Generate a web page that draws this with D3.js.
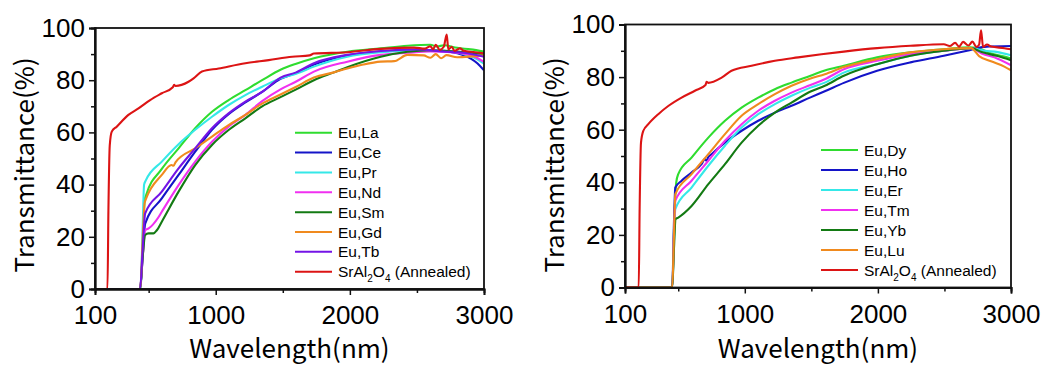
<!DOCTYPE html>
<html>
<head>
<meta charset="utf-8">
<script src="https://cdn.jsdelivr.net/npm/d3@7"></script>
<style>
  body { margin: 0; background: #fff; }
  svg { display: block; }
</style>
</head>
<body>
<svg id="chart" width="1051" height="367"></svg>
<script>
// axis ticks
const xTicks = [100, 1000, 2000, 3000];
const xMinor = [500, 1500, 2500];
const yTicks = [0, 20, 40, 60, 80, 100];
const yMinor = [10, 30, 50, 70, 90];

// left panel: [wavelength nm, transmittance %]
const euLa = [[100,0],[440,0],[458,20],[470,34],[480,35.8],[598,46],[723,53.9],[847,61.6],[972,67.9],[1096,72.4],[1221,76.2],[1346,80],[1483,84],[1600,86.3],[1732,88.4],[1981,90.9],[2230,92.2],[2430,93.2],[2600,93.6],[2650,92.9],[2700,93.4],[2800,92.4],[2900,91.8],[3000,91]];
const euCe = [[100,0],[436,0],[455,12],[474,25],[598,34.7],[723,43.7],[847,52.6],[972,61],[1096,67],[1221,71.5],[1346,75.5],[1483,80.5],[1600,82.8],[1732,86],[1981,89.5],[2230,91],[2500,91.5],[2750,90.8],[2850,89.5],[2950,86.5],[3000,83.8]];
const euPr = [[100,0],[440,0],[456,25],[466,40],[478,41.5],[598,48.8],[723,55.5],[847,61],[972,66],[1096,70.5],[1221,74.3],[1346,77.5],[1483,80.7],[1600,82.5],[1732,85.2],[1981,89],[2230,90.7],[2500,91.5],[2700,91.3],[2850,90],[2950,88],[3000,86.3]];
const euNd = [[100,0],[436,0],[455,12],[474,22.5],[500,23.2],[573,27.5],[598,29.6],[723,39.8],[847,48.8],[972,56.4],[1096,62.2],[1221,66.7],[1346,72],[1483,76.5],[1600,79.5],[1732,83.3],[1981,87.1],[2230,89.7],[2430,90.5],[2600,91],[2800,90.5],[2950,88.5],[3000,87]];
const euSm = [[100,0],[436,0],[455,12],[474,20.7],[499,21.3],[536,21.3],[561,22.5],[598,25.8],[723,37.3],[847,47.5],[972,55.2],[1096,60.9],[1221,65.4],[1346,70],[1483,73.5],[1600,76.5],[1732,80],[1881,83],[1981,85],[2230,89],[2430,90.9],[2600,91.5],[2800,91],[3000,90]];
const euGd = [[100,0],[438,0],[456,20],[470,33],[480,34.5],[598,43.7],[670,47.5],[685,47.2],[700,48.5],[847,53.9],[972,58.4],[1096,62.8],[1221,66.7],[1346,71],[1483,74.5],[1600,77.5],[1732,81],[1881,83],[1981,84.5],[2100,86],[2230,87.1],[2330,87.3],[2430,89.7],[2550,89.5],[2600,88.6],[2640,90],[2680,88.4],[2720,89.6],[2800,88.8],[3000,89.5]];
const euTb = [[100,0],[436,0],[455,15],[474,29],[598,37.3],[723,46.2],[847,53.9],[972,61.6],[1096,67.3],[1221,71.8],[1346,75.5],[1483,81],[1600,83],[1732,86.5],[1981,89.7],[2230,91.2],[2500,91.8],[2700,91],[2850,90.5],[3000,89]];
const srAlLeft = [[100,0],[193,0],[200,30],[210,55],[225,60.3],[262,62.2],[349,66.7],[424,69.2],[511,72.4],[598,75],[680,77.3],[690,78.2],[700,77.8],[797,79.4],[835,80.7],[897,83.3],[1022,84.5],[1221,86.5],[1395,87.7],[1570,89],[1700,89.5],[1732,90.2],[1981,90.7],[2230,92],[2479,92.5],[2560,92.1],[2600,93],[2620,91.8],[2640,93.6],[2670,91.6],[2700,92.8],[2722,97.5],[2734,91.8],[2760,92.8],[2780,91.2],[2820,92.2],[2850,91.3],[2920,90.8],[3000,90.3]];

// right panel
const euDy = [[100,0],[455,0],[470,25],[485,40],[500,43.1],[600,49.4],[726,57],[851,63.4],[976,68.4],[1101,72.2],[1226,75.4],[1351,77.9],[1494,80.5],[1601,82.5],[1744,84.3],[1994,87.5],[2245,89.4],[2495,90.6],[2695,91.3],[2780,90.5],[2850,89],[2950,87.8],[3000,87]];
const euHo = [[100,0],[455,0],[468,25],[478,38],[525,40.6],[600,43.7],[675,46.9],[700,48.8],[712,48.2],[725,49.5],[750,50.7],[851,55.1],[976,59.6],[1101,63.4],[1226,66.5],[1351,69.1],[1494,72.3],[1601,74.6],[1744,77.8],[1994,82.4],[2245,85.6],[2495,88.1],[2670,90],[2800,91.5],[3000,91.8]];
const euEr = [[100,0],[455,0],[468,18],[478,29.8],[600,38],[726,46.3],[851,53.9],[976,60.8],[1101,65.9],[1226,69.7],[1351,72.9],[1494,76],[1601,77.9],[1744,81.7],[1994,84.9],[2245,88.1],[2495,90],[2700,91],[2800,90],[2900,89.5],[3000,88.3]];
const euTm = [[100,0],[455,0],[468,20],[478,33],[600,40.6],[726,48.2],[851,55.8],[976,62.1],[1101,67.2],[1226,71],[1351,74.1],[1494,77],[1601,79.2],[1744,83],[1994,86.2],[2245,88.7],[2495,90],[2700,91],[2780,89],[2900,87],[3000,84.5]];
const euYb = [[100,0],[455,0],[468,15],[480,26],[500,26.6],[600,31],[726,39.3],[851,46.9],[976,55.1],[1101,61.5],[1226,66.5],[1351,70.3],[1494,74.5],[1601,76.7],[1744,80.5],[1994,84.9],[2245,88.1],[2495,90],[2700,91],[2780,89.5],[2900,88],[3000,86.4]];
const euLu = [[100,0],[455,0],[468,20],[478,35.5],[600,43.1],[726,50.7],[851,58.3],[976,65.3],[1101,69.7],[1226,73.5],[1351,76.7],[1494,79.5],[1601,81.1],[1744,83.8],[1994,86.8],[2245,89.4],[2495,90.6],[2700,91],[2760,88],[2850,86],[2950,84],[3000,82.6]];
const srAlRight = [[100,0],[203,0],[210,30],[220,55],[238,59.6],[275,62.1],[350,65.9],[425,69],[525,72.2],[625,74.8],[705,77],[713,78.2],[725,77.8],[826,79.8],[900,82.4],[1051,84.3],[1226,86.2],[1401,87.5],[1576,88.7],[1744,89.7],[1994,91],[2245,91.9],[2495,92.5],[2540,91.8],[2580,93],[2610,91.6],[2640,93.4],[2680,92],[2710,93.5],[2740,91.5],[2760,92.3],[2775,97.8],[2790,91.5],[2820,92.4],[2850,91.6],[2950,91],[3000,90.6]];

const colors = {
  green: '#2fdc2f', blue: '#1414c8', cyan: '#35e8e8', magenta: '#f030f0',
  dkgreen: '#137a13', orange: '#f08a1e', purple: '#7414e6', red: '#dc1414'
};

const panels = [
  {
    box: { left: 95, right: 484, top: 28, bottom: 289 },
    legend: { x: 295, y: 132.7, step: 19.86 },
    series: [
      { name: 'Eu,La', color: colors.green, data: euLa },
      { name: 'Eu,Ce', color: colors.blue, data: euCe },
      { name: 'Eu,Pr', color: colors.cyan, data: euPr },
      { name: 'Eu,Nd', color: colors.magenta, data: euNd },
      { name: 'Eu,Sm', color: colors.dkgreen, data: euSm },
      { name: 'Eu,Gd', color: colors.orange, data: euGd },
      { name: 'Eu,Tb', color: colors.purple, data: euTb },
      { name: 'SrAl2O4', color: colors.red, data: srAlLeft }
    ]
  },
  {
    box: { left: 625, right: 1011, top: 24.5, bottom: 287.5 },
    legend: { x: 821, y: 150, step: 20 },
    series: [
      { name: 'Eu,Dy', color: colors.green, data: euDy },
      { name: 'Eu,Ho', color: colors.blue, data: euHo },
      { name: 'Eu,Er', color: colors.cyan, data: euEr },
      { name: 'Eu,Tm', color: colors.magenta, data: euTm },
      { name: 'Eu,Yb', color: colors.dkgreen, data: euYb },
      { name: 'Eu,Lu', color: colors.orange, data: euLu },
      { name: 'SrAl2O4', color: colors.red, data: srAlRight }
    ]
  }
];

const svg = d3.select('#chart');
const tickFont = '"Liberation Sans", Arial, sans-serif';
const jpFont = '"Noto Sans CJK JP", "Noto Sans", sans-serif';

panels.forEach((p, i) => {
  const b = p.box;
  const x = d3.scaleLinear().domain([100, 3000]).range([b.left, b.right]);
  const y = d3.scaleLinear().domain([0, 100]).range([b.bottom, b.top]);
  const g = svg.append('g');

  g.append('clipPath').attr('id', 'clip' + i)
    .append('rect')
    .attr('x', b.left).attr('y', b.top)
    .attr('width', b.right - b.left).attr('height', b.bottom - b.top);

  const line = d3.line()
    .x((d) => x(d[0]))
    .y((d) => y(d[1]))
    .curve(d3.curveMonotoneX);

  // red goes last so it sits on top
  g.append('g').attr('clip-path', `url(#clip${i})`)
    .selectAll('path')
    .data(p.series)
    .enter()
    .append('path')
    .attr('d', (s) => line(s.data))
    .attr('fill', 'none')
    .attr('stroke', (s) => s.color)
    .attr('stroke-width', 2.1)
    .attr('stroke-linejoin', 'round');

  // frame
  g.append('rect')
    .attr('x', b.left).attr('y', b.top)
    .attr('width', b.right - b.left).attr('height', b.bottom - b.top)
    .attr('fill', 'none').attr('stroke', '#111').attr('stroke-width', 1.8);

  g.append('g')
    .attr('transform', `translate(0,${b.bottom})`)
    .call(d3.axisBottom(x).tickValues(xTicks).tickSize(6).tickPadding(11).tickFormat(d3.format('d')));
  g.append('g')
    .attr('transform', `translate(0,${b.bottom})`)
    .call(d3.axisBottom(x).tickValues(xMinor).tickSize(4).tickFormat(''));
  g.append('g')
    .attr('transform', `translate(${b.left},0)`)
    .call(d3.axisLeft(y).tickValues(yTicks).tickSize(6).tickPadding(4));
  g.append('g')
    .attr('transform', `translate(${b.left},0)`)
    .call(d3.axisLeft(y).tickValues(yMinor).tickSize(4).tickFormat(''));

  g.selectAll('.domain').attr('stroke', '#111').attr('stroke-width', 1.8);
  g.selectAll('.tick line').attr('stroke', '#111').attr('stroke-width', 1.5);
  g.selectAll('.tick text')
    .attr('font-family', tickFont).attr('font-size', 26).attr('fill', '#000');

  // axis titles
  const cx = (b.left + b.right) / 2;
  g.append('text')
    .attr('x', cx).attr('y', 358)
    .attr('text-anchor', 'middle')
    .attr('font-family', jpFont).attr('font-size', 26)
    .text('Wavelength(nm)');
  g.append('text')
    .attr('transform', `translate(${b.left - 70},165) rotate(-90)`)
    .attr('text-anchor', 'middle')
    .attr('dy', '0.35em')
    .attr('font-family', jpFont).attr('font-size', 26)
    .text('Transmittance(%)');

  // legend
  const lg = g.append('g');
  p.series.forEach((s, k) => {
    const ly = p.legend.y + k * p.legend.step;
    lg.append('line')
      .attr('x1', p.legend.x).attr('x2', p.legend.x + 37)
      .attr('y1', ly).attr('y2', ly)
      .attr('stroke', s.color).attr('stroke-width', 2);
    const t = lg.append('text')
      .attr('x', p.legend.x + 43).attr('y', ly)
      .attr('dy', '0.36em')
      .attr('font-family', tickFont).attr('font-size', 15.5);
    if (s.name === 'SrAl2O4') {
      t.append('tspan').text('SrAl');
      t.append('tspan').attr('font-size', 10).attr('dy', 5).text('2');
      t.append('tspan').attr('dy', -5).text('O');
      t.append('tspan').attr('font-size', 10).attr('dy', 5).text('4');
      t.append('tspan').attr('dy', -5).text('\u00a0(Annealed)');
    } else {
      t.text(s.name);
    }
  });
});
</script>
</body>
</html>
